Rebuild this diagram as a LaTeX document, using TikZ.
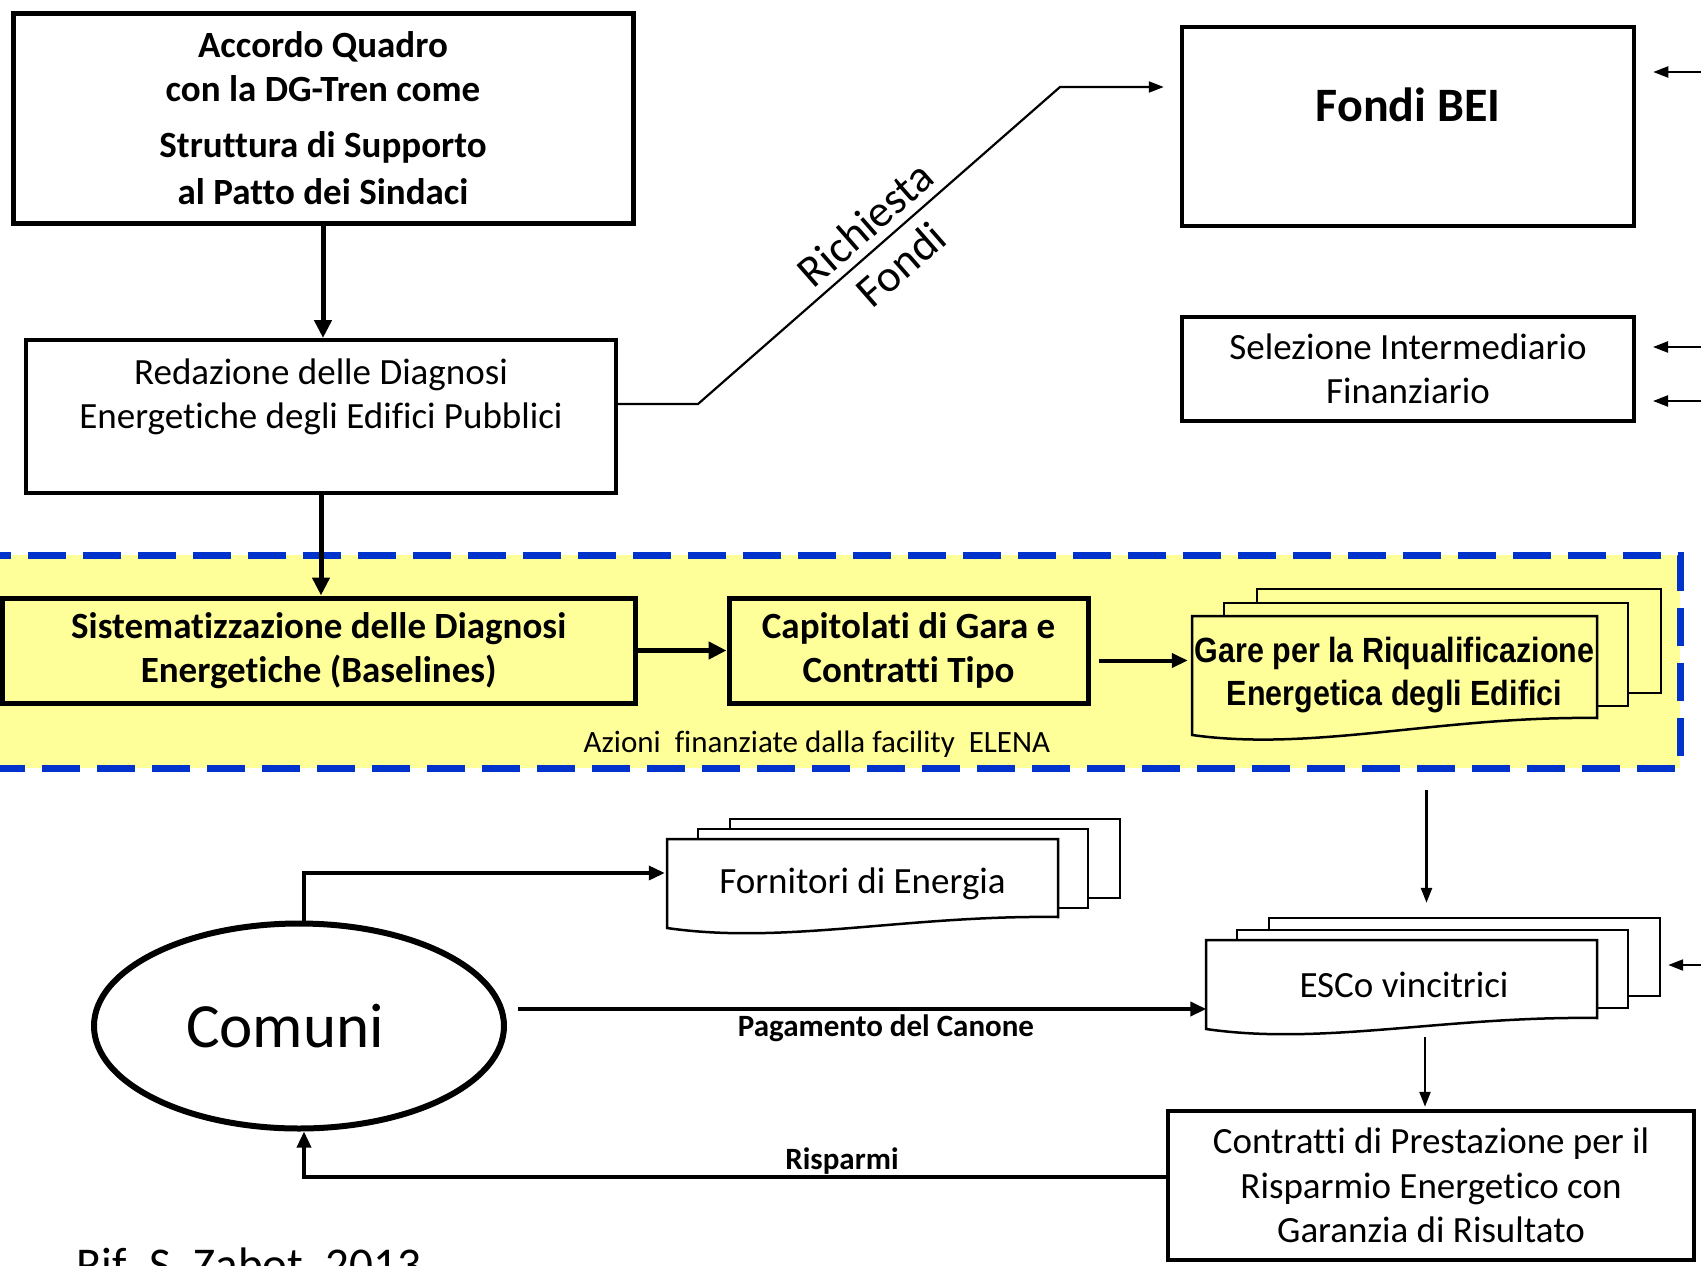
\documentclass[tikz,border=0pt]{standalone}
\usepackage{fontspec}
\setmainfont{Carlito}[Ligatures={NoCommon}]
\newfontfamily\garefont[FakeStretch=0.87]{Liberation Sans}
\usetikzlibrary{arrows.meta,shapes.geometric}
\definecolor{bandyellow}{RGB}{255,255,153}
\definecolor{bandblue}{RGB}{0,51,204}
\newcommand\myfs[2]{\fontsize{#1}{#2}\selectfont}
\begin{document}
\begin{tikzpicture}[x=1pt,y=-1pt,
  box/.style={draw, line width=4.5pt, inner sep=0pt, align=center},
  geo/.style={inner sep=0pt, align=center},
  txt/.style={inner sep=0pt, align=center},
  bigarr/.style={line width=5pt, -{Triangle[length=18pt,width=17pt]}},
  midarr/.style={line width=3.5pt, -{Triangle[length=16pt,width=14pt]}},
  thinarr/.style={line width=2.2pt, -{Triangle[length=15pt,width=11pt]}},
  docline/.style={draw, line width=2.5pt, line join=miter},
  regtext/.style={font=\myfs{37}{44.5}},
  boldtext/.style={font=\bfseries\myfs{37}{44.5}},
]
\useasboundingbox (0,0) rectangle (1701,1266);

% yellow band
\draw[fill=bandyellow, draw=bandblue, line width=7pt, dash pattern=on 38pt off 17pt]
  (-20,555) rectangle (1680,768);

% top-left boxes
\node[box, line width=5pt, minimum width=620pt, minimum height=210pt, boldtext] (box1) at (323,118)
  {Accordo Quadro\\con la DG-Tren come\\[11pt]Struttura di Supporto\\[3pt]al Patto dei Sindaci};
\node[box, line width=4pt, minimum width=590pt, minimum height=153pt] (redaz) at (321,416.5) {};
\node[txt, regtext] at (321,397) {Redazione delle Diagnosi\\Energetiche degli Edifici Pubblici};

% right boxes
\node[box, minimum width=452pt, minimum height=199pt] (fondi) at (1408,126.5) {};
\node[txt, font=\bfseries\myfs{48}{58}] at (1408,105) {Fondi BEI};
\node[box, line width=4pt, minimum width=452pt, minimum height=104pt, regtext] (selez) at (1408,369)
  {Selezione Intermediario\\Finanziario};

% band boxes
\node[box, line width=5pt, fill=bandyellow, minimum width=632.5pt, minimum height=105pt, boldtext] (sist) at (318.75,650.5)
  {Sistematizzazione delle Diagnosi\\Energetiche (Baselines)};
\node[box, line width=5pt, fill=bandyellow, minimum width=359pt, minimum height=105pt, boldtext] (capit) at (908.5,650.5)
  {Capitolati di Gara e\\Contratti Tipo};

% Gare stack
\draw[docline, fill=bandyellow] (1257,589) rectangle (1661,693);
\draw[docline, fill=bandyellow] (1224,603) rectangle (1628,706);
\draw[docline, fill=bandyellow] (1192,616) -- (1597,616) -- (1597,718)
  .. controls (1440,716) and (1314,752) .. (1192,735) -- cycle;
\node[geo, minimum width=405pt, minimum height=119pt, font=\garefont\bfseries\myfs{35}{43}] (gare) at (1394.5,675.5)
  {Gare per la Riqualificazione\\Energetica degli Edifici};
\node[geo, minimum width=469pt, minimum height=154pt] (garestack) at (1426.5,666) {};
\node[txt, font=\myfs{31}{37}] (azioni) at (817,744) {Azioni\ \ finanziate dalla facility\ \ ELENA};

% Fornitori stack
\draw[docline, fill=white] (730,819) rectangle (1120,898);
\draw[docline, fill=white] (698,829) rectangle (1088,908);
\draw[docline, fill=white] (667,839) -- (1058,839) -- (1058,917)
  .. controls (906,915) and (784,945) .. (667,928) -- cycle;
\node[geo, minimum width=391pt, minimum height=89pt, regtext] (forn) at (862.5,883.5) {Fornitori di Energia};

% ESCo stack
\draw[docline, fill=white] (1269,918) rectangle (1660,996);
\draw[docline, fill=white] (1237,930) rectangle (1628,1008);
\draw[docline, fill=white] (1206,940) -- (1597,940) -- (1597,1018)
  .. controls (1445,1016) and (1323,1046) .. (1206,1029) -- cycle;
\node[geo, minimum width=391pt, minimum height=89pt, regtext] (esco) at (1404,984.5) {ESCo vincitrici};
\node[geo, minimum width=454pt, minimum height=119pt] (escostack) at (1433,977.5) {};

% Contratti
\node[box, line width=4.5pt, minimum width=526pt, minimum height=149pt, regtext] (contr) at (1431,1185.5)
  {Contratti di Prestazione per il\\Risparmio Energetico con\\Garanzia di Risultato};

% Comuni
\node[ellipse, draw, line width=6pt, minimum width=410pt, minimum height=205pt, inner sep=0pt] (comuni) at (299,1026) {};
\node[txt, font=\myfs{63}{75}] at (285,1026) {Comuni};

% arrows
\draw[bigarr] (box1.south) -- (box1.south |- redaz.north);
\draw[bigarr] (redaz.south) -- (redaz.south |- sist.north);
\draw[bigarr] (sist.east) -- (capit.west);
\draw[midarr, line width=4pt, shorten <=8pt, shorten >=4pt] ([yshift=-10pt]capit.east) -- ([yshift=-10pt]capit.east -| gare.west);

\coordinate (rf1) at (698,404);
\coordinate (rf2) at (1060,87);
\draw[thinarr, shorten >=16pt] ([yshift=12.5pt]redaz.east) -- (rf1) -- (rf2) -- ([yshift=39.5pt]fondi.west);
\node[txt, rotate=41.2, font=\myfs{45}{54}] (richiesta) at (883,244) {Richiesta\\Fondi};

\coordinate (r1) at (1701,72);
\coordinate (r2) at (1701,347);
\coordinate (r3) at (1701,401);
\coordinate (r4) at (1701,965);
\draw[thinarr, shorten >=17pt] (r1) -- (r1 -| fondi.east);
\draw[thinarr, shorten >=17pt] (r2) -- (r2 -| selez.east);
\draw[thinarr, shorten >=17pt] (r3) -- (r3 -| selez.east);
\draw[thinarr, shorten >=8pt] (r4) -- (r4 -| escostack.east);

\draw[thinarr, line width=2.5pt, shorten <=47pt, shorten >=15pt] (garestack.south) -- (garestack.south |- escostack.north);
\draw[thinarr, line width=2.5pt, shorten >=2pt] ([xshift=-6pt]contr.north |- escostack.south) -- ([xshift=-6pt]contr.north);

\draw[midarr, shorten >=2pt] ([xshift=5pt]comuni.north) |- ([yshift=10.5pt]forn.west);
\draw[midarr, line width=4pt, shorten >=13pt] ([xshift=11pt,yshift=17pt]comuni.east) -- ([xshift=11pt,yshift=17pt]comuni.east -| esco.west);
\node[txt, font=\bfseries\myfs{31}{37}] (pag) at (886,1028) {Pagamento del Canone};
\draw[midarr] ([yshift=8.5pt]contr.west) -| ([xshift=5pt]comuni.south);
\node[txt, font=\bfseries\myfs{31}{37}] (risp) at (842,1161) {Risparmi};

\node[anchor=base west, inner sep=0pt, font=\myfs{47}{56}] (rif) at (76,1280) {Rif. S. Zabot, 2013};
\end{tikzpicture}
\end{document}
